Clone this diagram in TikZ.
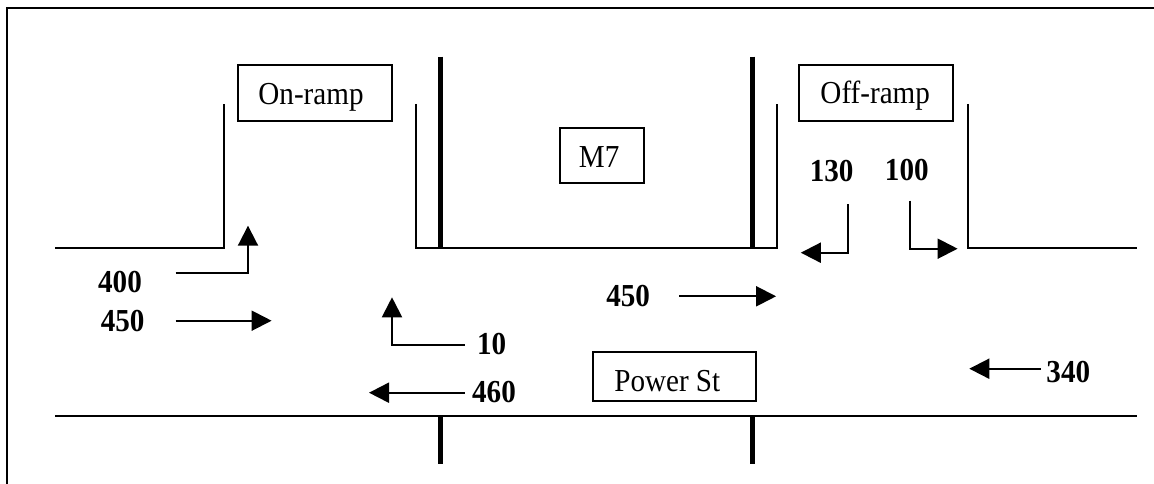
\documentclass[tikz,border=0pt]{standalone}
\usepackage{fontspec}
\setmainfont{Liberation Serif}[FakeStretch=0.91]
\usetikzlibrary{arrows.meta}
\tikzset{
  road/.style={line width=2pt,line join=miter,draw=black},
  bar/.style={line width=5.4pt,draw=black},
  flow/.style={line width=2pt,draw=black,-{Triangle[length=20pt,width=20pt]}},
  num/.style={font=\fontsize{32}{32}\selectfont\bfseries,inner sep=0pt,anchor=base},
  sign/.style={draw=black,line width=2pt,inner sep=0pt,anchor=base,align=center,font=\fontsize{32}{32}\selectfont}
}
\begin{document}
\begin{tikzpicture}[x=1pt,y=-1pt]
\useasboundingbox (0,0) rectangle (1154,484);
% frame
\coordinate (fb) at (7.4,484); \coordinate (fc) at (7.4,8.3); \coordinate (fr) at (1154,8.3);
\draw[road] (fb) -- (fc) -- (fr);
% road edges
\coordinate (a1) at (55.2,248.3); \coordinate (a2) at (223.8,248.3); \coordinate (a3) at (223.8,104);
\draw[road] (a1) -- (a2) -- (a3);
\coordinate (b1) at (416.3,104); \coordinate (b2) at (416.3,248.3); \coordinate (b3) at (776.9,248.3); \coordinate (b4) at (776.9,104);
\draw[road] (b1) -- (b2) -- (b3) -- (b4);
\coordinate (c1) at (967.9,104); \coordinate (c2) at (967.9,248.3); \coordinate (c3) at (1137.2,248.3);
\draw[road] (c1) -- (c2) -- (c3);
\coordinate (d1) at (55.2,416.3); \coordinate (d2) at (1137.2,416.3);
\draw[road] (d1) -- (d2);
% overpass bars
\coordinate (e1) at (440.2,56.7); \coordinate (e2) at (440.2,249);
\coordinate (e3) at (752.2,56.7); \coordinate (e4) at (752.2,249);
\coordinate (e5) at (440.2,416.3); \coordinate (e6) at (440.2,464.3);
\coordinate (e7) at (752.2,416.3); \coordinate (e8) at (752.2,464.3);
\draw[bar] (e1) -- (e2);
\draw[bar] (e3) -- (e4);
\draw[bar] (e5) -- (e6);
\draw[bar] (e7) -- (e8);
% signs
\node[sign,text height=39.7pt,text depth=16.3pt,minimum width=153.6pt] (onramp) at (314.8,105) {On-ramp\hspace{7.6pt}};
\node[sign,text height=39pt,text depth=17pt,minimum width=153.9pt] (offramp) at (876.2,103.7) {Off-ramp\hspace{2pt}};
\node[sign,text height=39.4pt,text depth=15pt,minimum width=84.6pt] (m7) at (602.1,167.7) {M7\hspace{6pt}};
\node[sign,text height=39.3pt,text depth=10pt,minimum width=163.1pt] (power) at (674.3,391) {Power St\hspace{14pt}};
% flow labels
\node[num] (n400) at (120,292.7) {400};
\node[num] (n450a) at (122.6,331) {450};
\node[num] (n10) at (491.7,354) {10};
\node[num] (n460) at (494,402.7) {460};
\node[num] (n130) at (831.7,181) {130};
\node[num] (n100) at (906.8,180) {100};
\node[num] (n450b) at (628.2,306) {450};
\node[num] (n340) at (1068.3,382) {340};
% flow arrows
\coordinate (f1) at (175.6,272.7); \coordinate (f2) at (248,272.7); \coordinate (f3) at (248,225.7);
\draw[flow] (f1) -- (f2) -- (f3);
\coordinate (g1) at (175.6,320.7); \coordinate (g2) at (271.6,320.7);
\draw[flow] (g1) -- (g2);
\coordinate (h1) at (464.8,344.7); \coordinate (h2) at (392,344.7); \coordinate (h3) at (392,297.3);
\draw[flow] (h1) -- (h2) -- (h3);
\coordinate (i1) at (464.8,392.7); \coordinate (i2) at (369,392.7);
\draw[flow] (i1) -- (i2);
\coordinate (j1) at (847.9,204); \coordinate (j2) at (847.9,252.7); \coordinate (j3) at (800.8,252.7);
\draw[flow] (j1) -- (j2) -- (j3);
\coordinate (k1) at (909.7,200.7); \coordinate (k2) at (909.7,248.7); \coordinate (k3) at (957.6,248.7);
\draw[flow] (k1) -- (k2) -- (k3);
\coordinate (l1) at (679.3,296.3); \coordinate (l2) at (776.1,296.3);
\draw[flow] (l1) -- (l2);
\coordinate (m1) at (1040.8,368.7); \coordinate (m2) at (969.3,368.7);
\draw[flow] (m1) -- (m2);
\end{tikzpicture}
\end{document}
